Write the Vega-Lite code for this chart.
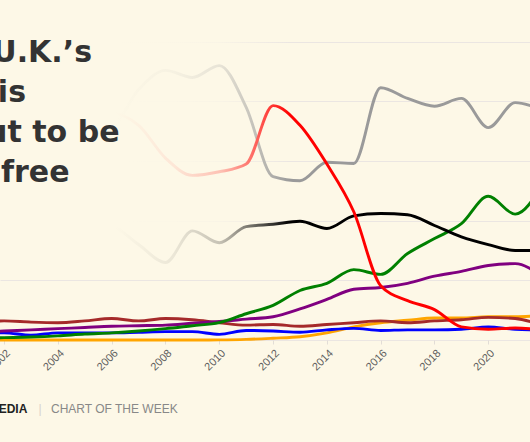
{
  "$schema": "https://vega.github.io/schema/vega-lite/v6.json",
  "width": 530,
  "height": 340,
  "autosize": {"type": "none"},
  "padding": {"left": 0, "top": 0, "right": 0, "bottom": 102},
  "background": "#fdf8e7",
  "config": {"view": {"stroke": null}},
  "datasets": {
    "one": [{}],
    "d": [
      {"year":2001,"source":"Solar","value":0},{"year":2002,"source":"Solar","value":0},{"year":2003,"source":"Solar","value":0},{"year":2004,"source":"Solar","value":0},{"year":2005,"source":"Solar","value":0},{"year":2006,"source":"Solar","value":0},{"year":2007,"source":"Solar","value":0},{"year":2008,"source":"Solar","value":0},{"year":2009,"source":"Solar","value":0},{"year":2010,"source":"Solar","value":0.02},{"year":2011,"source":"Solar","value":0.1},{"year":2012,"source":"Solar","value":0.3},{"year":2013,"source":"Solar","value":0.55},{"year":2014,"source":"Solar","value":1.2},{"year":2015,"source":"Solar","value":2.2},{"year":2016,"source":"Solar","value":2.9},{"year":2017,"source":"Solar","value":3.3},{"year":2018,"source":"Solar","value":3.7},{"year":2019,"source":"Solar","value":3.7},{"year":2020,"source":"Solar","value":3.9},{"year":2021,"source":"Solar","value":3.9},{"year":2022,"source":"Solar","value":4.1},
      {"year":2001,"source":"Other","value":3.1},{"year":2002,"source":"Other","value":3.2},{"year":2003,"source":"Other","value":3.0},{"year":2004,"source":"Other","value":2.9},{"year":2005,"source":"Other","value":3.2},{"year":2006,"source":"Other","value":3.6},{"year":2007,"source":"Other","value":3.2},{"year":2008,"source":"Other","value":3.6},{"year":2009,"source":"Other","value":3.4},{"year":2010,"source":"Other","value":2.9},{"year":2011,"source":"Other","value":2.5},{"year":2012,"source":"Other","value":2.6},{"year":2013,"source":"Other","value":2.3},{"year":2014,"source":"Other","value":2.6},{"year":2015,"source":"Other","value":2.9},{"year":2016,"source":"Other","value":3.2},{"year":2017,"source":"Other","value":2.9},{"year":2018,"source":"Other","value":3.2},{"year":2019,"source":"Other","value":3.4},{"year":2020,"source":"Other","value":3.8},{"year":2021,"source":"Other","value":3.6},{"year":2022,"source":"Other","value":2.5},
      {"year":2001,"source":"Hydro","value":1.2},{"year":2002,"source":"Hydro","value":1.2},{"year":2003,"source":"Hydro","value":0.8},{"year":2004,"source":"Hydro","value":1.2},{"year":2005,"source":"Hydro","value":1.2},{"year":2006,"source":"Hydro","value":1.2},{"year":2007,"source":"Hydro","value":1.3},{"year":2008,"source":"Hydro","value":1.4},{"year":2009,"source":"Hydro","value":1.4},{"year":2010,"source":"Hydro","value":0.95},{"year":2011,"source":"Hydro","value":1.6},{"year":2012,"source":"Hydro","value":1.5},{"year":2013,"source":"Hydro","value":1.3},{"year":2014,"source":"Hydro","value":1.7},{"year":2015,"source":"Hydro","value":1.95},{"year":2016,"source":"Hydro","value":1.6},{"year":2017,"source":"Hydro","value":1.7},{"year":2018,"source":"Hydro","value":1.7},{"year":2019,"source":"Hydro","value":1.8},{"year":2020,"source":"Hydro","value":2.2},{"year":2021,"source":"Hydro","value":1.8},{"year":2022,"source":"Hydro","value":1.7},
      {"year":2001,"source":"Bioenergy","value":1.3},{"year":2002,"source":"Bioenergy","value":1.5},{"year":2003,"source":"Bioenergy","value":1.7},{"year":2004,"source":"Bioenergy","value":1.9},{"year":2005,"source":"Bioenergy","value":2.1},{"year":2006,"source":"Bioenergy","value":2.3},{"year":2007,"source":"Bioenergy","value":2.4},{"year":2008,"source":"Bioenergy","value":2.5},{"year":2009,"source":"Bioenergy","value":2.8},{"year":2010,"source":"Bioenergy","value":3.1},{"year":2011,"source":"Bioenergy","value":3.5},{"year":2012,"source":"Bioenergy","value":3.9},{"year":2013,"source":"Bioenergy","value":5.2},{"year":2014,"source":"Bioenergy","value":6.8},{"year":2015,"source":"Bioenergy","value":8.5},{"year":2016,"source":"Bioenergy","value":8.8},{"year":2017,"source":"Bioenergy","value":9.5},{"year":2018,"source":"Bioenergy","value":10.7},{"year":2019,"source":"Bioenergy","value":11.5},{"year":2020,"source":"Bioenergy","value":12.5},{"year":2021,"source":"Bioenergy","value":12.8},{"year":2022,"source":"Bioenergy","value":10.6},
      {"year":2001,"source":"Wind","value":0.3},{"year":2002,"source":"Wind","value":0.4},{"year":2003,"source":"Wind","value":0.5},{"year":2004,"source":"Wind","value":0.7},{"year":2005,"source":"Wind","value":1.0},{"year":2006,"source":"Wind","value":1.2},{"year":2007,"source":"Wind","value":1.5},{"year":2008,"source":"Wind","value":1.9},{"year":2009,"source":"Wind","value":2.4},{"year":2010,"source":"Wind","value":2.9},{"year":2011,"source":"Wind","value":4.4},{"year":2012,"source":"Wind","value":5.8},{"year":2013,"source":"Wind","value":8.3},{"year":2014,"source":"Wind","value":9.5},{"year":2015,"source":"Wind","value":11.8},{"year":2016,"source":"Wind","value":11.0},{"year":2017,"source":"Wind","value":14.5},{"year":2018,"source":"Wind","value":17.0},{"year":2019,"source":"Wind","value":19.5},{"year":2020,"source":"Wind","value":24.1},{"year":2021,"source":"Wind","value":21.1},{"year":2022,"source":"Wind","value":26},
      {"year":2001,"source":"Gas","value":37},{"year":2002,"source":"Gas","value":38},{"year":2003,"source":"Gas","value":37},{"year":2004,"source":"Gas","value":39},{"year":2005,"source":"Gas","value":38},{"year":2006,"source":"Gas","value":36},{"year":2007,"source":"Gas","value":42},{"year":2008,"source":"Gas","value":45.2},{"year":2009,"source":"Gas","value":44},{"year":2010,"source":"Gas","value":46},{"year":2011,"source":"Gas","value":39},{"year":2012,"source":"Gas","value":27.4},{"year":2013,"source":"Gas","value":26.7},{"year":2014,"source":"Gas","value":29.8},{"year":2015,"source":"Gas","value":29.6},{"year":2016,"source":"Gas","value":42.3},{"year":2017,"source":"Gas","value":40.5},{"year":2018,"source":"Gas","value":39.2},{"year":2019,"source":"Gas","value":40.5},{"year":2020,"source":"Gas","value":35.6},{"year":2021,"source":"Gas","value":39.8},{"year":2022,"source":"Gas","value":38.6},
      {"year":2001,"source":"Nuclear","value":22.5},{"year":2002,"source":"Nuclear","value":22.5},{"year":2003,"source":"Nuclear","value":22},{"year":2004,"source":"Nuclear","value":19.8},{"year":2005,"source":"Nuclear","value":20},{"year":2006,"source":"Nuclear","value":19.2},{"year":2007,"source":"Nuclear","value":16},{"year":2008,"source":"Nuclear","value":13},{"year":2009,"source":"Nuclear","value":18.3},{"year":2010,"source":"Nuclear","value":16.3},{"year":2011,"source":"Nuclear","value":19},{"year":2012,"source":"Nuclear","value":19.4},{"year":2013,"source":"Nuclear","value":19.9},{"year":2014,"source":"Nuclear","value":18.7},{"year":2015,"source":"Nuclear","value":20.8},{"year":2016,"source":"Nuclear","value":21.2},{"year":2017,"source":"Nuclear","value":21},{"year":2018,"source":"Nuclear","value":19.2},{"year":2019,"source":"Nuclear","value":17.3},{"year":2020,"source":"Nuclear","value":16},{"year":2021,"source":"Nuclear","value":15},{"year":2022,"source":"Nuclear","value":15},
      {"year":2001,"source":"Coal","value":33},{"year":2002,"source":"Coal","value":32},{"year":2003,"source":"Coal","value":35},{"year":2004,"source":"Coal","value":34},{"year":2005,"source":"Coal","value":35},{"year":2006,"source":"Coal","value":38},{"year":2007,"source":"Coal","value":36},{"year":2008,"source":"Coal","value":30.5},{"year":2009,"source":"Coal","value":27.6},{"year":2010,"source":"Coal","value":28.2},{"year":2011,"source":"Coal","value":29.5},{"year":2012,"source":"Coal","value":39.3},{"year":2013,"source":"Coal","value":36},{"year":2014,"source":"Coal","value":29.5},{"year":2015,"source":"Coal","value":21.5},{"year":2016,"source":"Coal","value":9.1},{"year":2017,"source":"Coal","value":6.6},{"year":2018,"source":"Coal","value":5.1},{"year":2019,"source":"Coal","value":2.2},{"year":2020,"source":"Coal","value":1.8},{"year":2021,"source":"Coal","value":2.0},{"year":2022,"source":"Coal","value":1.7}
    ]
  },
  "layer": [
    {
      "data": {"name": "d"},
      "mark": {"type": "line", "interpolate": "monotone", "strokeCap": "round", "strokeJoin": "round"},
      "encoding": {
        "x": {
          "field": "year", "type": "quantitative",
          "scale": {"domain": [2001.848, 2021.551], "nice": false, "zero": false},
          "axis": {
            "values": [2002, 2004, 2006, 2008, 2010, 2012, 2014, 2016, 2018, 2020],
            "format": "d", "title": null, "grid": false, "domain": false,
            "labelAngle": -45, "labelFontSize": 11, "labelColor": "#5e5e5e",
            "labelFont": "Liberation Sans", "tickSize": 4, "tickColor": "#e2ddd6",
            "labelPadding": 3
          }
        },
        "y": {
          "field": "value", "type": "quantitative",
          "scale": {"domain": [0, 57], "nice": false, "zero": false},
          "axis": {
            "values": [0, 10, 20, 30, 40, 50], "title": null, "labels": false,
            "ticks": false, "domain": false, "grid": true, "gridColor": "#ebe6e2", "gridWidth": 1
          }
        },
        "color": {
          "field": "source", "type": "nominal", "legend": null,
          "scale": {
            "domain": ["Solar", "Other", "Hydro", "Bioenergy", "Wind", "Gas", "Nuclear", "Coal"],
            "range": ["#ffa500", "#a52a2a", "#0000ff", "#800080", "#008000", "#9a9a9a", "#000000", "#ff0000"]
          }
        },
        "strokeWidth": {
          "field": "source", "type": "nominal", "legend": null,
          "scale": {
            "domain": ["Solar", "Other", "Hydro", "Bioenergy", "Wind", "Gas", "Nuclear", "Coal"],
            "range": [2.9, 2.9, 3.4, 2.9, 2.9, 2.9, 2.9, 2.9]
          }
        }
      }
    },
    {
      "data": {"name": "one"},
      "mark": {
        "type": "rect",
        "fill": {
          "gradient": "linear", "x1": 0, "y1": 0, "x2": 1, "y2": 0,
          "stops": [
            {"offset": 0, "color": "rgba(253,248,231,1)"},
            {"offset": 0.4, "color": "rgba(253,248,231,1)"},
            {"offset": 0.6, "color": "rgba(253,248,231,0.93)"},
            {"offset": 0.76, "color": "rgba(253,248,231,0.78)"},
            {"offset": 0.85, "color": "rgba(253,248,231,0.5)"},
            {"offset": 0.92, "color": "rgba(253,248,231,0.28)"},
            {"offset": 1, "color": "rgba(253,248,231,0)"}
          ]
        }
      },
      "encoding": {
        "x": {"datum": 2001.848}, "x2": {"datum": 2012.63},
        "y": {"datum": 57}, "y2": {"datum": 12}
      }
    },
    {
      "data": {"name": "one"},
      "mark": {"type": "text", "text": "The U.K.’s", "align": "right", "baseline": "alphabetic", "font": "DejaVu Sans", "fontWeight": "bold", "fontSize": 30, "color": "#333333"},
      "encoding": {"x": {"datum": 2005.268}, "y": {"datum": 46.66}}
    },
    {
      "data": {"name": "one"},
      "mark": {"type": "text", "text": "grid is", "align": "right", "baseline": "alphabetic", "font": "DejaVu Sans", "fontWeight": "bold", "fontSize": 30, "color": "#333333"},
      "encoding": {"x": {"datum": 2002.815}, "y": {"datum": 39.95}}
    },
    {
      "data": {"name": "one"},
      "mark": {"type": "text", "text": "about to be", "align": "right", "baseline": "alphabetic", "font": "DejaVu Sans", "fontWeight": "bold", "fontSize": 30, "color": "#333333"},
      "encoding": {"x": {"datum": 2006.29}, "y": {"datum": 33.25}}
    },
    {
      "data": {"name": "one"},
      "mark": {"type": "text", "text": "coal-free", "align": "right", "baseline": "alphabetic", "font": "DejaVu Sans", "fontWeight": "bold", "fontSize": 30, "color": "#333333"},
      "encoding": {"x": {"datum": 2004.432}, "y": {"datum": 26.54}}
    },
    {
      "data": {"name": "one"},
      "mark": {"type": "text", "text": "QUARTZ MEDIA", "align": "right", "baseline": "alphabetic", "font": "Liberation Sans", "fontWeight": "bold", "fontSize": 12, "color": "#222222"},
      "encoding": {"x": {"datum": 2002.863}, "y": {"datum": -12.24}}
    },
    {
      "data": {"name": "one"},
      "mark": {"type": "text", "text": "|", "align": "center", "baseline": "alphabetic", "font": "Liberation Sans", "fontSize": 12, "color": "#d8d3cc"},
      "encoding": {"x": {"datum": 2003.335}, "y": {"datum": -12.24}}
    },
    {
      "data": {"name": "one"},
      "mark": {"type": "text", "text": "CHART OF THE WEEK", "align": "left", "baseline": "alphabetic", "font": "Liberation Sans", "fontSize": 12, "color": "#888888"},
      "encoding": {"x": {"datum": 2003.744}, "y": {"datum": -12.24}}
    }
  ]
}
